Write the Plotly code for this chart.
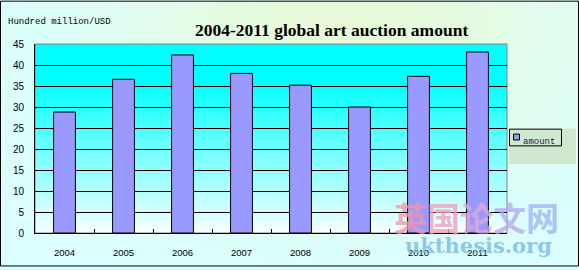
import base64
import math
import struct
import zlib

import plotly.graph_objects as go

# ---------------- data ----------------
years = ["2004", "2005", "2006", "2007", "2008", "2009", "2010", "2011"]
amount = [28.8, 36.6, 42.4, 38.0, 35.2, 30.0, 37.3, 43.1]
series_name = "amount"
chart_title = "2004-2011 global art auction amount"
unit_label = "Hundred million/USD"
y_ticks = [0, 5, 10, 15, 20, 25, 30, 35, 40, 45]
watermark_cn = ["英", "国", "论", "文", "网"]
watermark_en = "ukthesis.org"

# ---------------- geometry ----------------
W, H = 579, 270
ML, MR, MT, MB = 35, 72, 44, 34
PW, PH = W - ML - MR, H - MT - MB


def px(x):
    return (x - ML) / PW


def py(y):
    return (MT + PH - y) / PH


def png_uri(w, h, fn):
    raw = bytearray()
    for j in range(h):
        raw.append(0)
        for i in range(w):
            raw += bytes(fn(i, j))

    def chunk(tag, data):
        return (struct.pack(">I", len(data)) + tag + data
                + struct.pack(">I", zlib.crc32(tag + data) & 0xFFFFFFFF))

    png = (b"\x89PNG\r\n\x1a\n"
           + chunk(b"IHDR", struct.pack(">IIBBBBB", w, h, 8, 2, 0, 0, 0))
           + chunk(b"IDAT", zlib.compress(bytes(raw), 9))
           + chunk(b"IEND", b""))
    return "data:image/png;base64," + base64.b64encode(png).decode()


# paper background: light cyan with a pale green glow near the top centre/right
C = (218, 255, 255)
G = (232, 250, 216)


def paper_px(i, j):
    dx = (i / W - 0.6) / 0.4
    dy = (j / H - 0.08) / 0.6
    w = math.exp(-(dx * dx + dy * dy))
    return tuple(int(round(C[k] * (1 - w) + G[k] * w)) for k in range(3))


# plot area: cyan at top fading to near white at the bottom
def plot_px(i, j):
    v = 45 * (1 - (j + 0.5) / PH)
    r = 0 if v >= 36 else int(round(248 * (36 - v) / 36))
    return (r, 255, 255)


paper_img = png_uri(W, H, paper_px)
plot_img = png_uri(4, PH, plot_px)

fig = go.Figure()
fig.add_trace(go.Bar(
    x=years, y=amount, name=series_name,
    marker=dict(color="#9999FF", line=dict(color="black", width=1)),
    showlegend=False,
))

wm_colors = ["rgba(240,150,170,0.8)", "rgba(240,160,185,0.8)",
             "rgba(225,170,215,0.8)", "rgba(180,170,240,0.8)",
             "rgba(160,180,245,0.8)"]
wm_text = "".join(f"<span style='color:{c}'>{ch}</span>"
                  for ch, c in zip(watermark_cn, wm_colors))

fig.update_layout(
    width=W, height=H,
    margin=dict(l=ML, r=MR, t=MT, b=MB, pad=0),
    paper_bgcolor="#DCFFFF",
    plot_bgcolor="rgba(0,0,0,0)",
    bargap=0.63,
    xaxis=dict(
        type="category", showgrid=False, showline=True, linecolor="black",
        linewidth=1, ticks="inside", ticklen=4, tickcolor="black",
        tickson="boundaries", ticklabelstandoff=11,
        tickfont=dict(family="Liberation Sans", size=9.5, color="black"),
    ),
    yaxis=dict(
        range=[0, 45], tickvals=y_ticks, showgrid=True, gridcolor="black",
        gridwidth=1, zeroline=False, showline=True, linecolor="black",
        linewidth=1, ticks="", ticklabelstandoff=8,
        tickfont=dict(family="Liberation Sans", size=10, color="black"),
    ),
    images=[
        dict(source=paper_img, xref="paper", yref="paper",
             x=px(0), y=py(0), sizex=W / PW, sizey=H / PH,
             sizing="stretch", layer="below", xanchor="left", yanchor="top"),
        dict(source=plot_img, xref="paper", yref="paper",
             x=0, y=1, sizex=1, sizey=1,
             sizing="stretch", layer="below", xanchor="left", yanchor="top"),
    ],
    shapes=[
        # plot area frame (grey right edge)
        dict(type="rect", xref="paper", yref="paper", x0=0, x1=1, y0=0, y1=1,
             line=dict(color="#808080", width=1), layer="below"),
        # legend shadow
        dict(type="rect", xref="paper", yref="paper",
             x0=px(509), x1=px(576), y0=py(166), y1=py(130),
             fillcolor="#D0E8D0", line=dict(width=0), layer="below"),
        # legend box
        dict(type="rect", xref="paper", yref="paper",
             x0=px(509.5), x1=px(561.5), y0=py(147.5), y1=py(130.5),
             line=dict(color="black", width=1)),
        # legend key
        dict(type="rect", xref="paper", yref="paper",
             x0=px(513.5), x1=px(519.5), y0=py(141.5), y1=py(135.5),
             fillcolor="#9999FF", line=dict(color="black", width=1)),
        # outer frame
        dict(type="rect", xref="paper", yref="paper",
             x0=px(0.5), x1=px(W - 0.5), y0=py(H - 0.5), y1=py(0.5),
             line=dict(color="black", width=1)),
    ],
    annotations=[
        dict(text=f"<b>{chart_title}</b>", xref="paper", yref="paper",
             x=px(331.5), y=py(30), xanchor="center", yanchor="middle",
             showarrow=False,
             font=dict(family="Liberation Serif", size=17.5, color="black")),
        dict(text=unit_label, xref="paper", yref="paper",
             x=px(6), y=py(22), xanchor="left", yanchor="middle",
             showarrow=False,
             font=dict(family="Liberation Mono", size=9, color="black")),
        dict(text=series_name, xref="paper", yref="paper",
             x=px(521), y=py(143.5), xanchor="left", yanchor="middle",
             showarrow=False,
             font=dict(family="Liberation Mono", size=9, color="#202040")),
        dict(text=f"<b>{wm_text}</b>", xref="paper", yref="paper",
             x=px(476), y=py(220), xanchor="center", yanchor="middle",
             showarrow=False,
             font=dict(family="Noto Sans CJK SC", size=33)),
        dict(text=f"<b>{watermark_en}</b>", xref="paper", yref="paper",
             x=px(478), y=py(249), xanchor="center", yanchor="middle",
             showarrow=False,
             font=dict(family="DejaVu Serif", size=21,
                       color="rgba(120,185,230,0.8)")),
    ],
)

fig.write_html("out.html")
